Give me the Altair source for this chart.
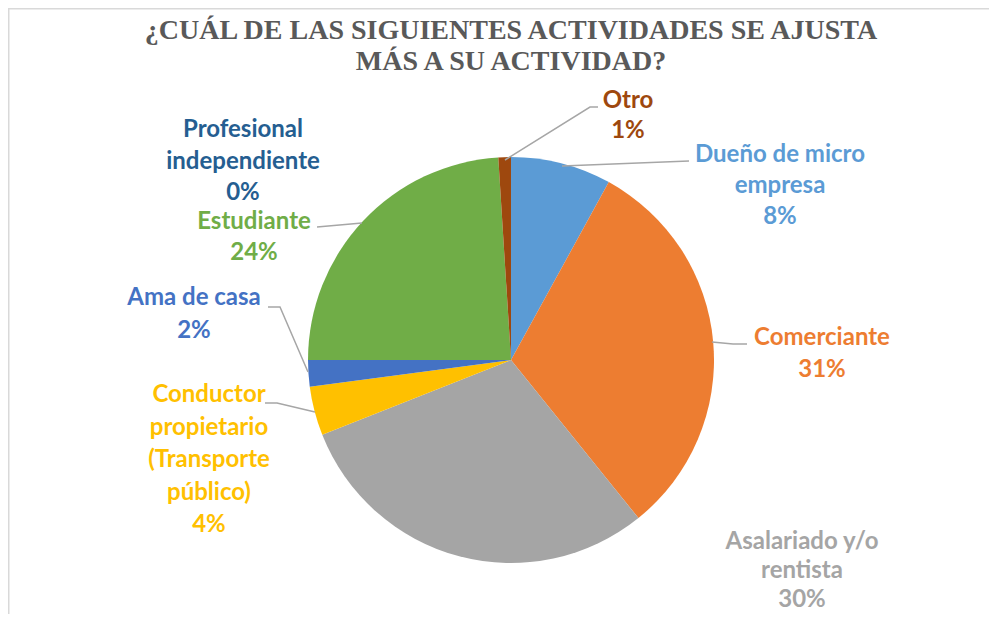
import math
import altair as alt
import pandas as pd

# ---------------- data ----------------
categories = [
    "Dueño de micro empresa",
    "Comerciante",
    "Asalariado y/o rentista",
    "Conductor propietario (Transporte público)",
    "Ama de casa",
    "Estudiante",
    "Profesional independiente",
    "Otro",
]
values = [8.0, 31.2, 29.8, 3.9, 2.1, 24.0, 0.0, 1.0]
colors = ["#5B9BD5", "#ED7D31", "#A5A5A5", "#FFC000", "#4472C4", "#70AD47", "#255E91", "#9E480E"]
label_lines = [
    ["Dueño de micro", "empresa"],
    ["Comerciante"],
    ["Asalariado y/o", "rentista"],
    ["Conductor", "propietario", "(Transporte", "público)"],
    ["Ama de casa"],
    ["Estudiante"],
    ["Profesional", "independiente"],
    ["Otro"],
]
title_lines = ["¿CUÁL DE LAS SIGUIENTES ACTIVIDADES SE AJUSTA", "MÁS A SU ACTIVIDAD?"]

# ---------------- layout (page pixel coords) ----------------
OFF = 8
W, H = 981, 606
CX, CY, R = 511 - OFF, 360 - OFF, 203
# label anchor: (x center, y of first line center, line spacing)
label_pos = [
    (780, 155, 31),
    (822, 338, 32),
    (802, 542, 29),
    (209, 395, 32.5),
    (194, 298, 33),
    (254, 222, 31),
    (243, 130, 31.5),
    (628, 101, 30),
]
leaders = [
    [(562, 166), (689, 161)],
    [(712, 342), (733, 344), (747, 344)],
    None,
    [(315, 412), (277, 403), (265, 403)],
    [(308, 372), (280, 307), (268, 307)],
    [(362, 223), (317, 227)],
    None,
    [(505, 160), (590, 107), (598, 107)],
]

pie_df = pd.DataFrame({"cat": categories, "value": values, "idx": list(range(len(values)))})

rows = []
for i, (cat, v) in enumerate(zip(categories, values)):
    lines = label_lines[i] + [f"{round(v)}%"]
    x0, y0, dy = label_pos[i]
    for j, t in enumerate(lines):
        rows.append({"t": t, "x": x0 - OFF, "y": y0 - OFF + j * dy, "cat": cat})
text_df = pd.DataFrame(rows)

lrows = []
for i, pts in enumerate(leaders):
    if not pts:
        continue
    for k, (px, py) in enumerate(pts):
        lrows.append({"g": i, "k": k, "x": px - OFF, "y": py - OFF})
line_df = pd.DataFrame(lrows)

title_df = pd.DataFrame({"t": title_lines, "x": [511 - OFF] * 2, "y": [31 - OFF, 62 - OFF]})

color_scale = alt.Scale(domain=categories, range=colors)

shadow = alt.Chart(pd.DataFrame({"v": [1]})).mark_arc(
    outerRadius=R + 2, color="#000000", opacity=0.10
).encode(theta=alt.Theta("v:Q"), x=alt.value(CX + 2), y=alt.value(CY + 4))

pie = alt.Chart(pie_df).mark_arc(outerRadius=R).encode(
    theta=alt.Theta("value:Q", stack=True),
    color=alt.Color("cat:N", scale=color_scale, legend=None),
    order=alt.Order("idx:Q"),
    x=alt.value(CX),
    y=alt.value(CY),
)

leader_lines = alt.Chart(line_df).mark_line(color="#A6A6A6", strokeWidth=1.5).encode(
    x=alt.X("x:Q", scale=None),
    y=alt.Y("y:Q", scale=None),
    detail="g:N",
    order="k:Q",
)

labels = alt.Chart(text_df).mark_text(
    font="Lato", fontWeight="bold", fontSize=24, align="center", baseline="middle"
).encode(
    x=alt.X("x:Q", scale=None),
    y=alt.Y("y:Q", scale=None),
    text="t:N",
    color=alt.Color("cat:N", scale=color_scale, legend=None),
)

title = alt.Chart(title_df).mark_text(
    font="Liberation Serif", fontWeight="bold", fontSize=28, align="center",
    baseline="middle", color="#595959"
).encode(x=alt.X("x:Q", scale=None), y=alt.Y("y:Q", scale=None), text="t:N")

frame = alt.Chart(pd.DataFrame({"a": [0]})).mark_rule(color="#D9D9D9", strokeWidth=1.5).encode(
    x=alt.value(0), x2=alt.value(W), y=alt.value(0.75)
) + alt.Chart(pd.DataFrame({"a": [0]})).mark_rule(color="#D9D9D9", strokeWidth=1.5).encode(
    x=alt.value(0.75), y=alt.value(0), y2=alt.value(H)
)

chart = alt.layer(frame, shadow, pie, leader_lines, labels, title).properties(
    width=W, height=H, padding=0, autosize=alt.AutoSizeParams(type="none")
).configure_view(stroke=None).configure(background="white")

chart.save("out.html", embed_options={"renderer": "svg", "actions": False})
